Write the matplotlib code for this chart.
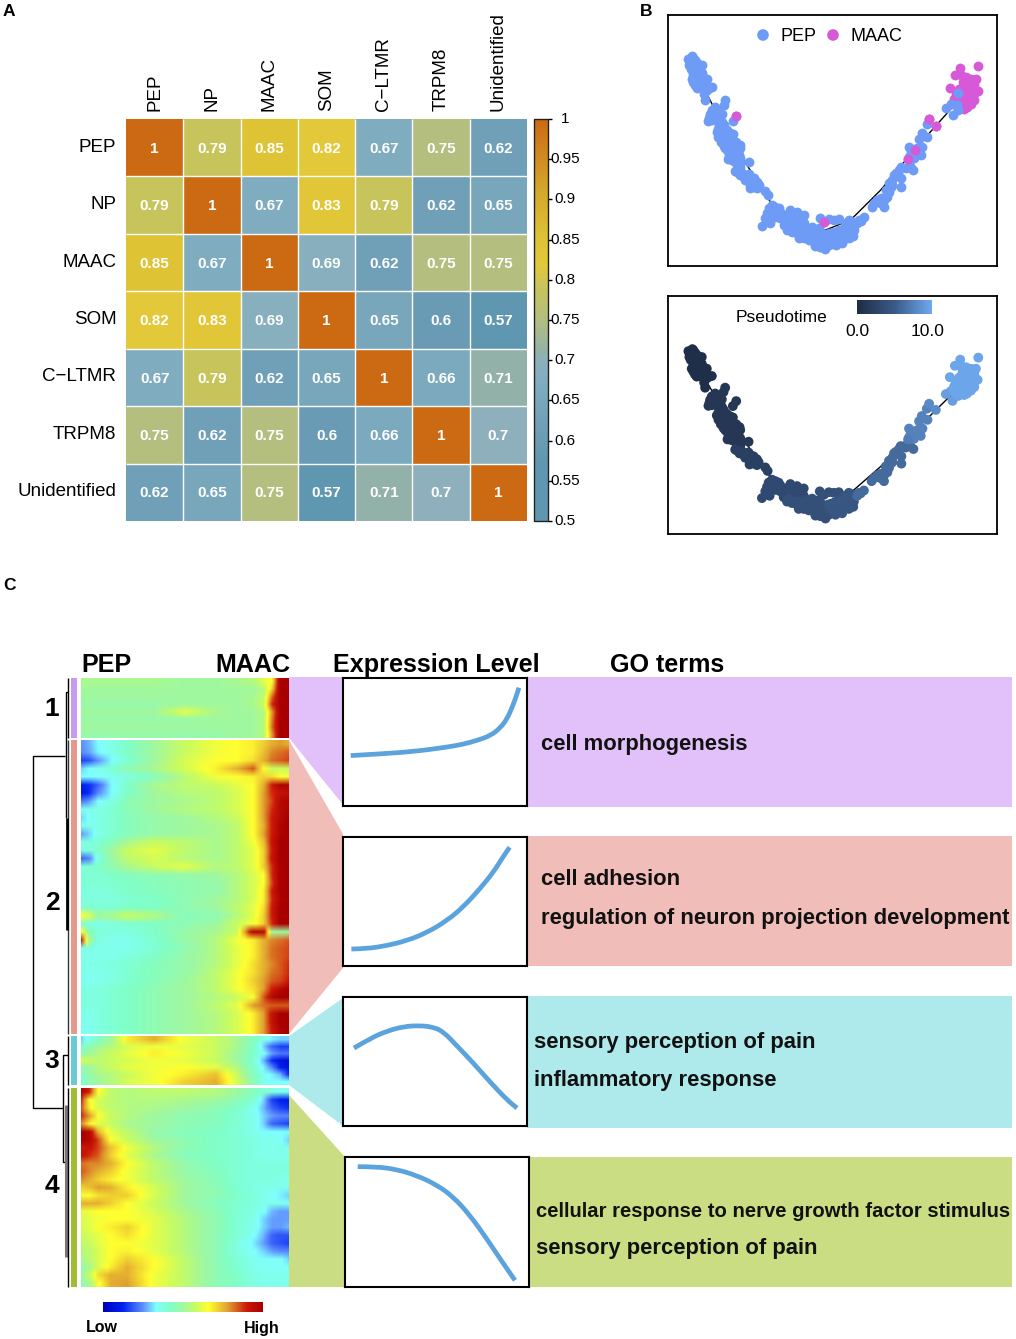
import numpy as np
import matplotlib
matplotlib.use("Agg")
import matplotlib.pyplot as plt
from matplotlib.colors import LinearSegmentedColormap, Normalize
from matplotlib.cm import ScalarMappable
from matplotlib.patches import Polygon, Rectangle, PathPatch
from matplotlib.path import Path
from matplotlib.transforms import ScaledTranslation

plt.rcParams['font.family'] = ['Liberation Sans', 'DejaVu Sans']

# ---------- Panel A data
CELL_TYPES = ["PEP", "NP", "MAAC", "SOM", "C\u2212LTMR", "TRPM8", "Unidentified"]
CORR = [
    [1, 0.79, 0.85, 0.82, 0.67, 0.75, 0.62],
    [0.79, 1, 0.67, 0.83, 0.79, 0.62, 0.65],
    [0.85, 0.67, 1, 0.69, 0.62, 0.75, 0.75],
    [0.82, 0.83, 0.69, 1, 0.65, 0.6, 0.57],
    [0.67, 0.79, 0.62, 0.65, 1, 0.66, 0.71],
    [0.75, 0.62, 0.75, 0.6, 0.66, 1, 0.7],
    [0.62, 0.65, 0.75, 0.57, 0.71, 0.7, 1],
]
CORR_TICKS = [1, 0.95, 0.9, 0.85, 0.8, 0.75, 0.7, 0.65, 0.6, 0.55, 0.5]

# ---------- Panel B data (position along the two reduced dimensions)
TRAJECTORY = [(135, 240), (200, 370), (330, 575), (400, 640), (495, 660), (570, 630), (660, 540), (760, 420), (880, 285)]
PEP_T = [0.3, 1.2, 2.2, 3.2, 3.9, 4.6, 6.0, 7.5, 9.3]
PEP_POINTS = [
    [(97,138),(88,150),(105,150),(95,160),(115,163),(125,165),(92,175),(105,172),(118,178),(100,185),(112,190),(125,188),(105,200),(118,203),(130,200),(140,205),(100,215),(112,220),(125,215),(138,222),(155,230),(110,232),(125,232),(140,238),(132,252),(135,270),
     (85,145),(100,142),(110,158),(88,165),(98,170),(108,162),(120,170),(100,195),(95,205),(115,210),(128,208),(105,225),(118,225),(132,228),(148,232)],
    [(195,270),(190,285),(165,290),(155,300),(172,300),(185,310),(165,315),(178,322),(148,322),(145,332),(170,330),(185,335),(178,345),(192,352),(170,365),(185,365),(200,360),(218,333),(218,372),(175,380),(190,380),(205,378),(182,395),(198,393),(212,392),(228,395),(190,408),(205,408),(220,410),(238,405),(240,415),(200,420),(215,425),(232,425),(212,438),(228,440),(202,447),(240,443),(225,455),(240,460),(232,470),(265,455),
     (160,305),(175,310),(150,312),(155,330),(175,355),(190,345),(180,372),(195,368),(210,368),(185,385),(200,400),(215,400),(230,410),(195,415),(210,415),(222,418),(205,435),(220,432),(235,435),(215,450),(230,450),(240,470)],
    [(230,485),(245,488),(258,495),(270,500),(280,505),(262,510),(275,518),(290,515),(268,533),(282,530),(295,525),(290,535),(315,543),(322,555),
     (225,482),(238,495),(250,500),(265,492),(255,510),(270,525),(285,522),(280,510)],
    [(335,585),(325,595),(345,590),(355,595),(320,610),(335,605),(350,610),(315,625),(330,622),(305,648),(328,640),(365,620),(390,600),(410,607),(430,615),(375,630),(390,625),(405,630),(425,628),(370,645),(385,645),(400,650),(420,645),
     (340,600),(330,615),(345,620),(360,605),(375,615),(395,615),(420,620),(360,625),(380,640),(395,640),(410,640),(430,640),(320,632)],
    [(380,660),(395,665),(410,670),(425,660),(440,665),(415,685),(430,685),(445,680),(460,660),(475,655),(455,680),(470,675),(485,670),(460,695),(475,690),(465,708),(480,710),(495,718),(492,690),(510,695),(478,625),(505,628),(520,630),(535,628),
     (385,650),(400,660),(415,660),(430,670),(445,690),(455,665),(470,665),(485,685),(500,680),(470,700),(485,700),(505,705),(440,655),(455,650)],
    [(505,670),(520,665),(535,660),(550,655),(565,630),(560,650),(575,645),(530,680),(545,675),(560,670),(575,665),(515,690),(530,695),(548,690),(565,685),(578,678),
     (520,680),(535,670),(550,665),(565,660),(540,690),(555,680),(570,675),(525,705),(545,700),(580,660),(575,635),(555,640)],
    [(590,640),(600,632),(610,622),(633,590),(650,570),(660,580),(670,590),(680,560),(675,540),(690,530),(695,510),(705,490),(722,505),(722,530),(720,470),(735,475),(748,468),(758,480),
     (595,630),(640,580),(655,575),(670,570),(685,545),(685,520),(700,495),(715,480),(660,565),(695,525)],
    [(745,410),(755,435),(765,430),(752,445),(770,415),(780,435),(775,385),(783,367),(800,380),(798,342),
     (750,425),(760,420),(760,445),(745,440),(785,410)],
    [(855,292),(875,315),(870,282),(888,285),(892,298),(892,248)],
]
MAAC_POINTS = [(228,316),(490,637),(742,447),(763,421),(805,325),(825,346),
    (898,174),(952,167),(882,195),(900,195),(915,200),(930,205),(945,205),(940,220),(925,215),(910,225),(930,228),(945,240),(867,234),(895,235),(910,240),(925,240),(885,250),(900,255),(915,255),(930,255),(950,243),(880,265),(895,270),(910,270),(925,270),(940,268),(905,285),(920,285),(890,295),(918,290),
    (905,215),(920,225),(935,240),(905,250),(890,262),(940,250),(905,262),(920,262),(895,280),(930,280),(915,275),(910,295),(878,280)]
MAAC_T = [1.2, 4.0, 7.2, 7.5, 8.0, 8.2] + [9.8] * 43

# ---------- Panel C data: expression levels (0-100) per gene block at pseudotime fractions
PSEUDO_POS = [0, .04, .08, .14, .22, .35, .5, .65, .75, .83, .88, .92, .96, 1]
CLUSTER1 = [
    [52,52,52,52,52,52,50,50,52,54,62,66,100,100],
    [50,50,50,50,50,50,50,50,50,50,54,72,100,100],
    [50,50,50,50,50,50,50,50,50,52,56,82,100,100],
    [48,48,48,48,48,48,50,50,50,52,58,88,100,100],
    [50,50,50,50,50,50,62,52,50,50,54,78,100,100],
    [48,48,48,48,48,48,48,50,50,50,54,80,100,100],
    [50,50,50,50,50,50,50,50,50,50,54,82,100,100],
    [48,48,48,48,48,48,48,48,50,50,54,78,100,100],
]
CLUSTER2 = [
    [25,28,33,37,42,50,58,64,66,68,72,76,78,76],
    [24,27,32,36,42,50,58,64,66,68,74,80,82,84],
    [16,18,25,32,40,50,60,66,66,70,76,82,84,86],
    [30,33,36,40,46,52,60,68,76,84,66,58,58,58],
    [33,33,33,35,38,44,55,64,66,68,72,70,66,64],
    [12,14,20,32,42,52,56,58,62,66,76,90,98,98],
    [10,14,24,32,42,50,54,56,60,66,78,88,92,94],
    [22,26,33,37,45,50,52,56,60,66,78,86,96,98],
    [36,36,37,40,45,50,54,56,60,66,78,88,96,98],
    [30,34,37,40,44,48,50,54,58,66,78,90,96,100],
    [36,37,37,40,44,48,50,52,56,66,76,90,98,100],
    [26,30,36,40,44,48,50,52,56,66,78,90,98,100],
    [38,38,40,44,52,58,56,52,56,64,74,92,100,100],
    [38,38,42,50,58,62,56,52,56,62,72,90,100,100],
    [20,24,36,48,56,60,55,52,56,62,72,92,100,100],
    [38,40,42,46,52,58,62,54,56,62,72,88,100,100],
    [40,40,40,42,44,46,48,50,54,60,66,88,100,100],
    [40,40,40,40,42,44,46,48,54,60,66,86,100,100],
    [38,38,38,40,42,44,46,48,54,60,68,90,100,100],
    [38,38,38,38,40,42,46,50,54,60,68,88,98,100],
    [40,40,40,40,42,42,46,50,56,62,70,90,100,100],
    [66,60,50,52,58,54,44,46,54,62,72,90,100,100],
    [40,38,36,38,40,42,46,50,58,64,72,88,100,100],
    [66,44,40,38,38,42,48,52,58,98,96,50,50,50],
    [90,52,38,36,36,40,48,54,64,68,76,80,82,84],
    [38,37,36,36,36,40,46,54,62,68,76,82,84,86],
    [36,36,36,36,38,42,48,54,62,68,76,82,84,86],
    [37,37,37,38,40,44,48,54,62,70,76,80,84,88],
    [36,36,36,37,40,44,48,56,64,70,76,82,84,88],
    [35,35,36,37,40,44,50,56,64,72,78,84,86,90],
    [38,38,38,40,42,46,50,56,64,70,78,90,96,100],
    [38,38,38,40,42,46,50,54,58,66,84,96,100,100],
    [38,38,38,40,42,46,50,56,62,78,82,84,84,84],
    [36,36,38,40,42,46,50,54,60,68,78,92,100,100],
    [36,36,38,40,42,46,50,54,60,68,78,92,100,100],
    [35,35,38,40,42,46,50,54,60,68,78,90,98,100],
]
CLUSTER3 = [
    [30,36,42,50,68,76,64,58,52,44,38,32,30,30],
    [42,46,50,54,60,64,62,58,52,42,30,20,16,16],
    [46,50,54,58,62,68,64,58,50,42,34,26,22,22],
    [60,58,56,58,60,64,62,58,50,40,28,14,8,6],
    [46,50,54,58,62,64,66,62,54,42,32,24,12,8],
    [44,48,52,54,58,64,68,74,58,44,36,32,28,14],
    [42,46,50,54,60,64,72,76,60,46,36,33,33,33],
]
CLUSTER4 = [
    [98,88,66,56,54,56,56,54,50,44,40,38,36,36],
    [88,66,60,56,54,54,52,50,46,40,30,16,12,10],
    [84,68,60,56,54,52,50,46,42,36,28,20,16,14],
    [88,78,66,58,54,50,46,44,40,36,30,26,24,24],
    [80,68,62,58,52,50,46,44,40,36,30,20,18,16],
    [100,96,76,62,56,48,44,42,40,36,33,33,33,33],
    [100,96,86,66,58,50,46,42,40,38,36,36,34,30],
    [90,92,86,74,64,54,46,42,40,38,36,36,36,36],
    [92,88,84,72,62,52,44,42,40,38,36,36,36,36],
    [82,80,80,76,66,56,48,42,40,38,38,38,38,38],
    [84,80,76,72,64,56,48,44,40,38,38,38,38,38],
    [80,76,72,68,64,56,50,44,40,38,38,38,37,36],
    [72,74,78,76,68,60,50,46,40,38,36,36,36,36],
    [64,66,70,72,72,60,50,46,42,38,36,34,32,30],
    [76,76,76,72,66,58,50,44,40,38,36,36,36,34],
    [62,64,66,66,66,60,52,46,40,38,34,28,26,26],
    [60,62,64,66,66,62,54,46,40,36,30,26,26,26],
    [60,62,66,68,72,62,54,46,40,36,30,26,26,28],
    [58,60,62,66,70,62,54,46,40,34,28,20,18,18],
    [56,58,62,66,66,62,54,46,38,32,26,20,18,16],
    [54,56,60,66,68,62,54,46,38,34,30,26,24,24],
    [52,56,60,66,72,66,56,46,40,36,34,34,34,30],
    [48,52,60,68,76,66,56,46,40,36,34,34,34,34],
    [50,58,70,76,76,64,56,46,42,38,36,36,36,36],
    [46,52,64,76,78,64,56,46,42,38,36,36,36,36],
]
CLUSTER_NAMES = ["1", "2", "3", "4"]
CURVE1 = [(213,347),(300,342),(400,335),(500,322),(550,313),(590,302),(630,288),(660,265),(680,238),(695,205),(708,170),(716,145)]
CURVE2 = [(215,927),(260,926),(320,917),(380,902),(440,878),(500,842),(550,800),(600,745),(640,695),(665,655),(688,621)]
CURVE3 = [(222,204),(270,175),(320,153),(370,139),(420,136),(460,141),(490,155),(530,197),(580,250),(630,307),(680,360),(710,385)]
CURVE4 = [(234,560),(290,560),(350,568),(410,586),(470,614),(520,650),(570,705),(620,775),(660,835),(705,900)]
GO_TERMS = [["cell morphogenesis"],
            ["cell adhesion", "regulation of neuron projection development"],
            ["sensory perception of pain", "inflammatory response"],
            ["cellular response to nerve growth factor stimulus", "sensory perception of pain"]]

W, H = 1016, 1339
fig = plt.figure(figsize=(W / 100, H / 100), dpi=100)


def px_axes(x0, y0, x1, y1, **kw):
    return fig.add_axes([x0 / W, 1 - y1 / H, (x1 - x0) / W, (y1 - y0) / H], **kw)


# Page layers: shapes below the panels, text above them
page = px_axes(0, 0, W, H)
page.set_xlim(0, W); page.set_ylim(H, 0); page.axis('off')
top = px_axes(0, 0, W, H, zorder=20)
top.set_xlim(0, W); top.set_ylim(H, 0); top.axis('off'); top.patch.set_alpha(0)
for s, x, y in [("A", 3, 12), ("B", 640, 12), ("C", 3, 586)]:
    top.text(x, y, s, fontsize=12.5, fontweight='bold', ha='left', va='center')

# ---------- A
corr_cmap = LinearSegmentedColormap.from_list("corr", [
    (0.0, "#5F97B0"), (0.14, "#5F97B0"), (0.24, "#6FA0B7"), (0.34, "#7FACBF"), (0.40, "#8DB0BC"), (0.42, "#92B1A8"),
    (0.50, "#B2BE80"), (0.58, "#C8C45C"), (0.64, "#E3C83A"), (0.70, "#DEC335"), (0.82, "#D4A82B"), (1.0, "#CC6A14")])
norm = Normalize(0.5, 1)
axA = px_axes(126, 119, 527, 521)
corr = np.array(CORR)
axA.pcolormesh(corr, cmap=corr_cmap, norm=norm, linewidth=0)
axA.set_ylim(7, 0); axA.set_xlim(0, 7)
axA.vlines(np.arange(1, 7), 0, 7, color='white', lw=1.0)
axA.hlines(np.arange(1, 7), 0, 7, color='white', lw=1.0)
for s in axA.spines.values():
    s.set_visible(False)
axA.tick_params(length=0, pad=0)
axA.set_xticks(np.arange(7) + .5); axA.set_yticks(np.arange(7) + .5)
axA.xaxis.tick_top()
axA.set_xticklabels(CELL_TYPES, rotation=90, fontsize=13.5, ha='center', va='bottom')
axA.set_yticklabels(CELL_TYPES, fontsize=13.5)
axA.tick_params(axis='x', pad=6); axA.tick_params(axis='y', pad=7)
shift_up = ScaledTranslation(0, 2.5 / 100, fig.dpi_scale_trans)
for lab in axA.get_yticklabels():
    lab.set_transform(lab.get_transform() + shift_up)
for i in range(7):
    for j in range(7):
        axA.text(j + .5, i + .52, f"{CORR[i][j]:g}", color='white', fontsize=11, fontweight='bold', ha='center', va='center')

caxA = px_axes(534, 119, 548, 521)
cbA = fig.colorbar(ScalarMappable(norm, corr_cmap), cax=caxA)
cbA.set_ticks(CORR_TICKS); cbA.set_ticklabels([''] * len(CORR_TICKS))
cbA.ax.tick_params(length=3, width=1, pad=0)
cbA.outline.set_linewidth(1); cbA.outline.set_edgecolor('#222222')
for t in CORR_TICKS:
    cbA.ax.text(2.2, t, f"{t:g}", transform=cbA.ax.get_yaxis_transform(), fontsize=11, ha='center', va='center', clip_on=False, zorder=5)

# ---------- B
PEP_C, MAAC_C = "#6E9BF5", "#D65AD8"
time_cmap = LinearSegmentedColormap.from_list("time", ["#1E2C45", "#3A5A88", "#6FA8EE"])
tnorm = Normalize(0, 10)
DOT = 50


def setup_b(box, ylim):
    ax = px_axes(*box)
    ax.set_xlim(24, 1008); ax.set_ylim(*ylim)
    ax.set_xticks([]); ax.set_yticks([])
    for s in ax.spines.values():
        s.set_linewidth(1.3)
    ax.plot(*zip(*TRAJECTORY), color='black', lw=1, zorder=1)
    return ax


axB = setup_b((668, 15, 997, 266), (768, 14))
axB.scatter(*zip(*MAAC_POINTS), s=DOT, c=MAAC_C, lw=0, zorder=2)
for pts in PEP_POINTS:
    axB.scatter(*zip(*pts), s=DOT, c=PEP_C, lw=0, zorder=3)
axB.scatter(*zip(*MAAC_POINTS[:6]), s=DOT, c=MAAC_C, lw=0, zorder=4)
top.scatter([763, 833], [35, 35], s=70, c=[PEP_C, MAAC_C], lw=0)
top.text(780, 36.5, "PEP", fontsize=13, va='center')
top.text(850, 36.5, "MAAC", fontsize=13, va='center')

axB2 = setup_b((668, 296, 997, 534), (771, -44))
for t, pts in zip(PEP_T, PEP_POINTS):
    axB2.scatter(*zip(*pts), s=DOT, c=[t] * len(pts), cmap=time_cmap, norm=tnorm, lw=0, zorder=2)
axB2.scatter(*zip(*MAAC_POINTS), s=DOT, c=MAAC_T, cmap=time_cmap, norm=tnorm, lw=0, zorder=3)
caxT = px_axes(857, 300, 932, 314)
cbT = fig.colorbar(ScalarMappable(tnorm, time_cmap), cax=caxT, orientation='horizontal')
cbT.set_ticks([]); cbT.outline.set_visible(False)
top.text(736, 318, "Pseudotime", fontsize=12.5, va='center')
top.text(857, 331, "0.0", fontsize=12.5, ha='center', va='center')
top.text(928, 331, "10.0", fontsize=12.5, ha='center', va='center')

# ---------- C
heat_cmap = LinearSegmentedColormap.from_list("heat", [
    (0, "#0000C0"), (.12, "#0020F0"), (.25, "#6090FF"), (.33, "#80FFFF"), (.42, "#80FFC8"), (.5, "#A0F8A0"),
    (.58, "#C8FC60"), (.66, "#FFFF30"), (.72, "#F0D030"), (.78, "#E0A030"), (.9, "#CC1808"), (1, "#A80000")])
hnorm = Normalize(0, 100)
blocks = [(CLUSTER1, 678, 738), (CLUSTER2, 740, 1034), (CLUSTER3, 1036, 1085), (CLUSTER4, 1088, 1287)]
fine = np.linspace(0, 1, 209)
for rows, y0, y1 in blocks:
    img = np.array([np.interp(fine, PSEUDO_POS, r) for r in rows])
    ax = px_axes(81, y0, 289, y1)
    ax.imshow(img, cmap=heat_cmap, norm=hnorm, aspect='auto', interpolation='bilinear')
    ax.axis('off')

side = ["#C89AF0", "#E39A8E", "#6CCAD5", "#A0BC30"]
name_y = [709, 903, 1061, 1186]
for (rows, y0, y1), c, name, ny in zip(blocks, side, CLUSTER_NAMES, name_y):
    page.add_patch(Rectangle((71, y0), 5.5, y1 - y0, color=c, lw=0))
    top.text(52, ny, name, fontsize=19, fontweight='bold', ha='center', va='center')

dendro = [
    ([65, 33, 33, 63], [756, 756, 1108, 1108], 1.0, 'black'),
    ([68, 68], [678, 738], 1.0, 'black'),
    ([68, 65.6, 65.6], [692, 692, 818], 1.0, 'black'),
    ([68, 68], [740, 1034], 1.0, '#333333'),
    ([67, 67], [818, 930], 2.0, 'black'),
    ([68, 68], [1036, 1085], 1.0, 'black'),
    ([68, 63, 63, 67], [1055, 1055, 1162, 1162], 1.0, 'black'),
    ([66, 66], [1105, 1257], 2.2, '#777777'),
    ([68, 68], [1088, 1287], 1.0, 'black'),
]
for xs, ys, lw, c in dendro:
    page.plot(xs, ys, color=c, lw=lw, solid_capstyle='butt')

links = [
    ("#E2C1FB", [(289, 677), (344, 677), (344, 806), (289, 738)], (527, 677, 1012, 807)),
    ("#F1BDB8", [(289, 740), (343, 834), (343, 968), (289, 1034)], (527, 836, 1012, 966)),
    ("#AEE9EB", [(289, 1036), (343, 998), (343, 1126), (289, 1085)], (527, 996, 1012, 1128)),
    ("#CBDD82", [(289, 1095), (345, 1157), (345, 1287), (289, 1287)], (529, 1157, 1012, 1287)),
]
for c, poly, (x0, y0, x1, y1) in links:
    page.add_patch(Polygon(poly, color=c, lw=0))
    page.add_patch(Rectangle((x0, y0), x1 - x0, y1 - y0, color=c, lw=0))


def smooth_path(points):
    """Quadratic Bezier path through the read points, so the thick line has no kinks."""
    pts = np.array(points, float)
    verts = [pts[0]]
    codes = [Path.MOVETO]
    for i in range(1, len(pts) - 1):
        verts += [pts[i], (pts[i] + pts[i + 1]) / 2]
        codes += [Path.CURVE3, Path.CURVE3]
    verts.append(pts[-1])
    codes.append(Path.LINETO)
    return Path(verts, codes)


boxes = [((343, 678, 527, 806), (190, 740), (497, 116), CURVE1),
         ((343, 837, 527, 966), (190, 740), (978, 590), CURVE2),
         ((343, 997, 527, 1126), (189, 740), (439, 50), CURVE3),
         ((345, 1157, 529, 1287), (196, 747), (920, 531), CURVE4)]
for box, xl, yl, curve in boxes:
    ax = px_axes(*box)
    ax.set_xlim(*xl); ax.set_ylim(*yl)
    ax.set_xticks([]); ax.set_yticks([])
    for s in ax.spines.values():
        s.set_linewidth(1.5)
    ax.add_patch(PathPatch(smooth_path(curve), fc='none', ec="#5BA3DC", lw=3.4, capstyle='butt', joinstyle='round'))

go_pos = [[(541, 744)], [(541, 879), (541, 918)], [(534, 1042), (534, 1080)], [(536, 1211), (536, 1248)]]
go_size = [[15.8], [15.8, 15.8], [15.8, 15.8], [14.6, 15.8]]
for terms, poss, sizes in zip(GO_TERMS, go_pos, go_size):
    for term, (x, y), fs in zip(terms, poss, sizes):
        top.text(x, y + 0.5, term, fontsize=fs, fontweight='bold', ha='left', va='center', color='#111111')

for s, x in [("PEP", 81), ("MAAC", 215), ("Expression Level", 333), ("GO terms", 610)]:
    top.text(x, 665, s, fontsize=18.1, fontweight='bold', ha='left', va='center')

caxH = px_axes(103, 1302, 263, 1312)
cbH = fig.colorbar(ScalarMappable(hnorm, heat_cmap), cax=caxH, orientation='horizontal')
cbH.set_ticks([]); cbH.outline.set_visible(False)
top.text(102, 1328, "Low", fontsize=11.5, fontweight='bold', ha='center', va='center')
top.text(262, 1328, "High", fontsize=11.5, fontweight='bold', ha='center', va='center')

fig.savefig("out.png", dpi=100)
